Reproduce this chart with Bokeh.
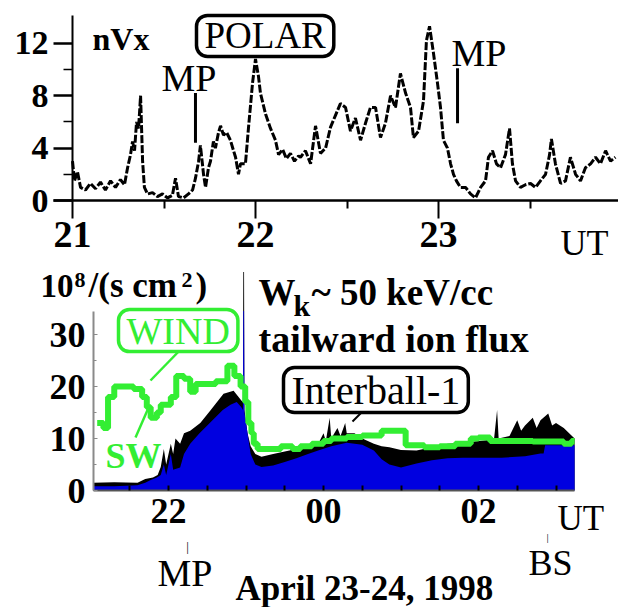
from bokeh.plotting import figure
from bokeh.models import Label, Range1d, FixedTicker
from bokeh.layouts import column
from bokeh.embed import file_html
from bokeh.resources import INLINE

# ---------------- data: top panel (POLAR nVx) ----------------
nvx_t = [21.000, 21.011, 21.027, 21.044, 21.071, 21.098, 21.126, 21.153, 21.180, 21.208,
         21.235, 21.262, 21.284, 21.301, 21.317, 21.328, 21.339, 21.350, 21.361, 21.372,
         21.383, 21.393, 21.410, 21.437, 21.464, 21.492, 21.519, 21.546, 21.563, 21.579,
         21.607, 21.634, 21.656, 21.672, 21.689, 21.699, 21.716, 21.727, 21.743, 21.754,
         21.770, 21.781, 21.798, 21.809, 21.825, 21.842, 21.863, 21.880, 21.891, 21.907,
         21.918, 21.945, 21.962, 21.984, 22.000, 22.016, 22.027, 22.055, 22.082, 22.109,
         22.126, 22.148, 22.169, 22.191, 22.213, 22.235, 22.246, 22.273, 22.301, 22.328,
         22.355, 22.383, 22.410, 22.437, 22.464, 22.492, 22.519, 22.546, 22.574, 22.601,
         22.628, 22.656, 22.683, 22.710, 22.738, 22.765, 22.792, 22.820, 22.847, 22.863,
         22.891, 22.918, 22.934, 22.951, 22.973, 22.995, 23.011, 23.027, 23.049, 23.066,
         23.082, 23.098, 23.120, 23.148, 23.175, 23.202, 23.230, 23.257, 23.273, 23.295,
         23.317, 23.339, 23.366, 23.388, 23.404, 23.421, 23.448, 23.475, 23.503, 23.530,
         23.557, 23.585, 23.607, 23.617, 23.639, 23.667, 23.694, 23.721, 23.749, 23.776,
         23.803, 23.831, 23.858, 23.885, 23.913, 23.940, 23.967]
nvx_v = [3.0, 1.5, 2.2, 1.0, 0.8, 1.3, 0.9, 1.4, 0.8, 1.5,
         1.0, 1.6, 1.2, 2.5, 3.5, 4.5, 3.8, 6.0, 5.5, 8.0,
         3.0, 1.0, 0.5, 0.6, 0.3, 0.5, 0.2, 0.4, 1.7, 0.3,
         0.2, 0.5, 0.8, 1.7, 3.0, 4.2, 2.0, 1.0, 2.5, 3.0,
         4.5, 4.0, 5.2, 5.7, 5.0, 5.2, 4.6, 3.8, 3.3, 2.0,
         2.8, 2.8, 5.6, 9.0, 10.8, 9.5, 8.2, 6.6, 5.5, 4.6,
         3.5, 3.9, 3.2, 3.6, 3.0, 3.4, 3.3, 3.8, 2.8, 5.7,
         3.6, 4.0, 5.6, 6.5, 7.4, 7.1, 5.3, 6.3, 4.6, 5.9,
         7.1, 7.1, 4.8, 5.9, 8.0, 7.1, 9.7, 8.2, 7.1, 4.8,
         5.3, 7.6, 12.2, 13.3, 11.2, 8.9, 7.1, 4.6, 4.0, 2.8,
         2.0, 1.5, 1.0, 1.0, 0.5, 0.2, 1.0, 1.5, 3.3, 3.8,
         2.8, 2.5, 3.5, 5.5, 2.8, 1.5, 1.0, 1.2, 1.3, 1.0,
         1.5, 2.0, 3.5, 4.7, 2.8, 1.3, 1.5, 3.3, 2.0, 1.5,
         2.5, 2.8, 3.3, 2.8, 3.8, 3.0, 3.3]
top_ticks = [21, 22, 23]
top_minor = [21.5, 22.5, 23.5]
top_yticks = [0, 4, 8, 12]
top_yminor = [2, 6, 10]
mp_top_t = [21.672, 23.104]
mp_top_lo = [4.4, 5.9]
mp_top_hi = [8.2, 10.1]

# ---------------- data: bottom panel (Interball-1 / WIND) ----------------
blue_t = [21.03, 21.3, 21.6, 21.7, 21.77, 21.85, 21.9, 21.94, 21.97, 22.03,
          22.06, 22.15, 22.2, 22.28, 22.4, 22.5, 22.6, 22.7, 22.8, 22.88,
          22.94, 22.96, 22.965, 22.975, 22.98, 23.02, 23.06, 23.12, 23.2, 23.35,
          23.5, 23.65, 23.8, 23.95, 24.1, 24.3, 24.5, 24.65, 24.75, 24.85,
          25.0, 25.2, 25.4, 25.6, 25.8, 26.0, 26.3, 26.6, 26.8, 26.84,
          26.86, 27.24]
blue_v = [0.8, 0.8, 1.0, 1.5, 2.0, 2.5, 3.0, 5.0, 3.0, 7.0,
          4.0, 4.4, 7.0, 9.0, 11.0, 12.5, 14.0, 15.5, 16.5, 17.0,
          16.0, 15.5, 34.5, 34.5, 15.0, 11.0, 7.0, 5.0, 4.5, 4.8,
          5.5, 6.2, 7.0, 7.8, 8.5, 9.2, 8.8, 7.7, 6.0, 5.0,
          4.4, 5.2, 5.8, 6.2, 6.3, 6.3, 6.3, 6.6, 7.1, 7.1,
          8.7, 8.7]
black_t = [21.03, 21.3, 21.6, 21.7, 21.8, 21.86, 21.9, 21.94, 21.97, 22.03,
           22.06, 22.09, 22.15, 22.2, 22.28, 22.41, 22.54, 22.71, 22.84, 22.94,
           22.96, 22.965, 22.975, 22.98, 23.02, 23.06, 23.12, 23.2, 23.35, 23.5,
           23.65, 23.8, 23.95, 24.0, 24.03, 24.08, 24.1, 24.18, 24.22, 24.28,
           24.3, 24.4, 24.5, 24.65, 24.75, 24.85, 25.0, 25.2, 25.4, 25.6,
           25.8, 26.0, 26.2, 26.24, 26.26, 26.4, 26.45, 26.5, 26.55, 26.6,
           26.7, 26.75, 26.8, 26.9, 26.95, 27.0, 27.1, 27.24]
black_v = [1.5, 1.6, 1.5, 2.2, 2.5, 3.0, 4.5, 8.0, 5.0, 9.0,
           7.0, 10.0, 9.0, 11.0, 11.5, 13.0, 15.4, 18.6, 19.2, 17.3,
           17.0, 42.0, 42.0, 15.5, 11.0, 8.5, 7.0, 6.5, 7.0, 7.5,
           8.0, 8.5, 9.5, 11.0, 9.5, 14.0, 10.0, 12.0, 10.5, 13.0,
           11.0, 11.0, 10.0, 9.0, 8.5, 8.3, 7.8, 7.7, 8.3, 9.0,
           9.2, 9.5, 9.8, 15.5, 10.0, 10.5, 12.0, 13.5, 11.5, 12.5,
           14.0, 12.0, 13.5, 14.8, 12.5, 13.0, 12.0, 10.0]
wind_t = [21.08, 21.16, 21.22, 21.30, 21.45, 21.55, 21.66, 21.72, 21.77, 21.85,
          21.90, 22.03, 22.10, 22.20, 22.28, 22.35, 22.61, 22.76, 22.85, 22.93,
          22.99, 23.03, 23.07, 23.10, 23.15, 23.45, 23.6, 23.7, 23.85, 24.0,
          24.1, 24.3, 24.5, 24.75, 25.06, 25.3, 25.5, 25.7, 25.9, 26.0,
          26.15, 26.7, 27.1, 27.2, 27.24]
wind_v = [13.0, 12.0, 18.0, 20.0, 20.0, 19.5, 18.0, 16.0, 14.0, 15.0,
          16.5, 18.0, 22.0, 21.5, 19.0, 20.5, 21.0, 24.0, 22.0, 20.0,
          17.0, 13.0, 11.0, 9.0, 8.0, 8.5, 8.0, 8.5, 9.0, 9.5,
          10.0, 10.3, 10.6, 11.5, 8.7, 8.3, 8.5, 9.0, 10.0, 10.2,
          9.5, 9.4, 9.0, 9.5, 9.5]
bot_ticks = [22, 24, 26]
bot_labels = {22: "22", 24: "00", 26: "02"}
bot_minor = [21.5, 22.5, 23, 23.5, 24.5, 25, 25.5, 26.5, 27]
bot_yticks = [0, 10, 20, 30]
bot_yminor = [5, 15, 25]

FONT = "Liberation Serif"
GREEN = "#33ee33"
BLUE = "#0000e0"
SPLIT = 263  # page row where the upper canvas ends and the lower one starts


# page pixel -> data coordinate helpers (layout only)
def fx1(px):
    return 21.0 + (px - 72) / 183.0


def fy1(py):
    return (200 - py) / 13.1


def fx2(px):
    return 22.0 + (px - 168) / 77.5


def fy2(py):
    return (490 - py) / 5.2


def lab(p, fx, fy, px, py, text, size, style="normal", color="black", align="left",
        box=None, pad=None):
    # py is the wanted baseline row; the renderer sits text ~0.26 em lower
    L = Label(x=fx(px), y=fy(py - 0.26 * size), text=text, text_font=FONT,
              text_font_size=f"{size}px", text_font_style=style, text_color=color,
              text_align=align, text_baseline="alphabetic")
    if box is not None:
        L.border_line_color = box
        L.border_line_width = 3.5
        L.border_radius = 11
        L.background_fill_color = "white"
        L.padding = pad
    p.add_layout(L)
    return L


# ---------------- top figure ----------------
p1 = figure(width=618, height=SPLIT,
            x_range=Range1d(fx1(0), fx1(618)), y_range=Range1d(fy1(SPLIT), fy1(0)),
            output_backend="svg", toolbar_location=None,
            min_border_left=0, min_border_right=0, min_border_top=0, min_border_bottom=0)
p1.outline_line_color = None
p1.grid.visible = False
p1.line(nvx_t, nvx_v, line_color="black", line_width=3, line_dash="8 2")
p1.segment(x0=mp_top_t, y0=mp_top_lo, x1=mp_top_t, y1=mp_top_hi, line_color="black", line_width=3)

xa = p1.xaxis[0]
xa.fixed_location = 0
xa.bounds = (fx1(53), fx1(618))
xa.ticker = FixedTicker(ticks=top_ticks, minor_ticks=top_minor)
xa.major_tick_out = 18
xa.major_tick_in = 0
xa.minor_tick_out = 8
xa.minor_tick_in = 0
xa.axis_line_width = 2.5
xa.major_tick_line_width = 2
xa.minor_tick_line_width = 2
xa.major_label_standoff = 3
xa.major_label_text_font = FONT
xa.major_label_text_font_style = "bold"
xa.major_label_text_font_size = "38px"
xa.major_label_text_color = "black"

ya = p1.yaxis[0]
ya.fixed_location = 21.0
ya.bounds = (0, fy1(15))
ya.ticker = FixedTicker(ticks=top_yticks, minor_ticks=top_yminor)
ya.major_tick_out = 19
ya.major_tick_in = 0
ya.minor_tick_out = 9
ya.minor_tick_in = 0
ya.axis_line_width = 2
ya.major_tick_line_width = 2.5
ya.minor_tick_line_width = 1.5
ya.major_label_standoff = 5
ya.major_label_text_font = FONT
ya.major_label_text_font_style = "bold"
ya.major_label_text_font_size = "34px"
ya.major_label_text_color = "black"

lab(p1, fx1, fy1, 92, 47, "nVx", 32, "bold")
lab(p1, fx1, fy1, 196, 45, "POLAR", 37, box="black", pad=dict(left=8, right=8, top=0, bottom=0))
lab(p1, fx1, fy1, 161, 87, "MP", 38)
lab(p1, fx1, fy1, 451, 62, "MP", 38)
lab(p1, fx1, fy1, 560, 252, "UT", 36)

# ---------------- bottom figure ----------------
p2 = figure(width=618, height=607 - SPLIT,
            x_range=Range1d(fx2(0), fx2(618)), y_range=Range1d(fy2(607), fy2(SPLIT)),
            output_backend="svg", toolbar_location=None,
            min_border_left=0, min_border_right=0, min_border_top=0, min_border_bottom=0)
p2.outline_line_color = None
p2.grid.visible = False
p2.varea(x=black_t, y1=0, y2=black_v, fill_color="black")
p2.varea(x=blue_t, y1=0, y2=blue_v, fill_color=BLUE)
p2.step(wind_t, wind_v, mode="after", line_color=GREEN, line_width=6)

bx = p2.xaxis[0]
bx.fixed_location = 0
bx.bounds = (fx2(93), fx2(574))
bx.ticker = FixedTicker(ticks=bot_ticks, minor_ticks=bot_minor)
bx.major_label_overrides = bot_labels
bx.major_tick_in = 5
bx.major_tick_out = 0
bx.minor_tick_in = 5
bx.minor_tick_out = 0
bx.axis_line_width = 2
bx.axis_line_color = "#555555"
bx.major_tick_line_width = 2
bx.minor_tick_line_width = 2
bx.major_label_standoff = 8
bx.major_label_text_font = FONT
bx.major_label_text_font_style = "bold"
bx.major_label_text_font_size = "36px"
bx.major_label_text_color = "black"

by = p2.yaxis[0]
by.fixed_location = fx2(93)
by.bounds = (0, 34.5)
by.ticker = FixedTicker(ticks=bot_yticks, minor_ticks=bot_yminor)
by.major_tick_in = 4
by.major_tick_out = 0
by.minor_tick_in = 3
by.minor_tick_out = 0
by.axis_line_width = 2
by.axis_line_color = "#8a8a8a"
by.major_tick_line_color = "#8a8a8a"
by.minor_tick_line_color = "#8a8a8a"
by.major_label_standoff = 8
by.major_label_text_font = FONT
by.major_label_text_font_style = "bold"
by.major_label_text_font_size = "36px"
by.major_label_text_color = "black"

# unit label 10^8/(s cm^2)
lab(p2, fx2, fy2, 40, 294, "10", 33, "bold")
lab(p2, fx2, fy2, 74, 285, "8", 22, "bold")
lab(p2, fx2, fy2, 88, 294, "/(s cm", 35, "bold")
lab(p2, fx2, fy2, 181, 285, "2", 22, "bold")
lab(p2, fx2, fy2, 195, 294, ")", 35, "bold")
# W_k ~ 50 keV/cc, tailward ion flux
lab(p2, fx2, fy2, 258, 302, "W", 37, "bold")
lab(p2, fx2, fy2, 293, 313, "k", 30, "bold")
lab(p2, fx2, fy2, 311, 302, "~ 50 keV/cc", 37, "bold")
lab(p2, fx2, fy2, 258, 348, "tailward ion flux", 38, "bold")
# WIND / SW
lab(p2, fx2, fy2, 118, 340, "WIND", 38, color=GREEN, box=GREEN, pad=dict(left=8, right=8, top=0, bottom=0))
lab(p2, fx2, fy2, 105, 465, "SW", 36, "bold", color=GREEN)
p2.segment(x0=[fx2(182), fx2(149)], y0=[fy2(347), fy2(405)],
           x1=[fx2(150), fx2(135)], y1=[fy2(380), fy2(437)], line_color=GREEN, line_width=2.5)
# Interball-1
lab(p2, fx2, fy2, 283, 400, "Interball-1", 40, box="black", pad=dict(left=8, right=8, top=0, bottom=0))
p2.segment(x0=[fx2(362)], y0=[fy2(411)], x1=[fx2(352)], y1=[fy2(421)], line_color="black", line_width=2)
# markers and labels below axis
lab(p2, fx2, fy2, 187, 549, "|", 13, align="center")
lab(p2, fx2, fy2, 157, 582, "MP", 38)
lab(p2, fx2, fy2, 547, 539, "|", 11, align="center")
lab(p2, fx2, fy2, 528, 572, "BS", 36)
lab(p2, fx2, fy2, 557, 527, "UT", 35)
lab(p2, fx2, fy2, 235, 597, "April 23-24, 1998", 35, "bold")

layout = column(p1, p2, spacing=0)
open("out.html", "w").write(file_html(layout, INLINE))
